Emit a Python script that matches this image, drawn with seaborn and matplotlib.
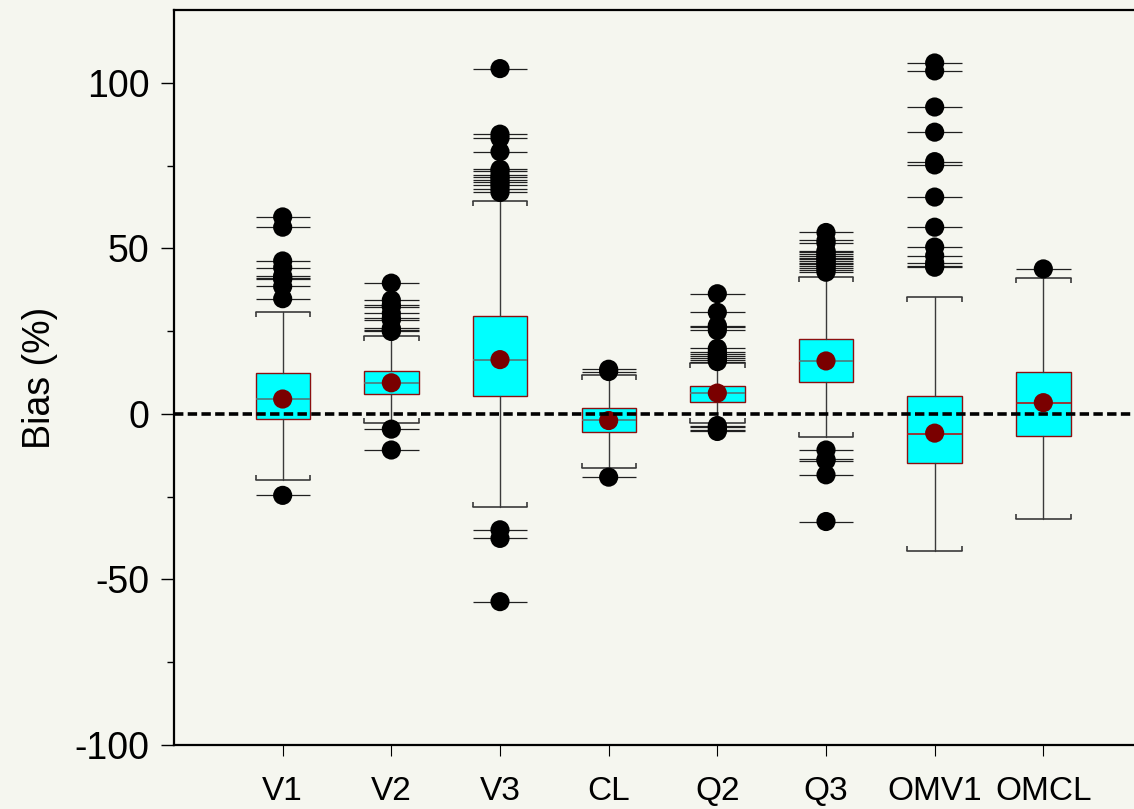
import matplotlib
matplotlib.use("Agg")
import matplotlib.pyplot as plt
import seaborn as sns
import pandas as pd
import numpy as np

# ---------------- data ----------------
labels = ["V1", "V2", "V3", "CL", "Q2", "Q3", "OMV1", "OMCL"]
q1 = [-1.6, 6.0, 5.3, -5.5, 3.7, 9.6, -14.9, -6.6]
medians = [4.4, 9.3, 16.4, -1.8, 6.2, 16.0, -6.1, 3.2]
q3 = [12.3, 13.1, 29.5, 1.7, 8.5, 22.6, 5.5, 12.8]
whislo = [-19.9, -2.8, -28.1, -16.4, -2.8, -6.9, -41.4, -31.8]
whishi = [30.9, 23.4, 64.2, 11.8, 15.3, 41.3, 35.4, 41.0]
means = [4.5, 9.4, 16.4, -2.0, 6.3, 16.0, -5.8, 3.4]

fliers_V1 = [59.5, 56.4, 46.2, 44.2, 41.7, 41.1, 40.7, 38.5, 34.8, -24.6]
fliers_V2 = [39.5, 34.4, 32.9, 32.4, 30.4, 28.9, 28.4, 25.9, 25.4, 24.9, -4.6, -10.9]
fliers_V3 = [104.3, 84.5, 83.3, 79.2, 73.9, 73.4, 72.1, 71.5, 70.8, 69.9, 69.1,
             68.0, 66.9, -35.0, -37.6, -56.7]
fliers_CL = [13.5, 12.8, -19.1]
fliers_Q2 = [36.3, 30.7, 26.7, 26.2, 25.2, 19.8, 18.8, 18.1, 17.5, 16.8, 16.3,
             15.8, -3.5, -4.1, -4.8, -5.3]
fliers_Q3 = [54.8, 52.4, 51.6, 49.3, 48.9, 48.3, 47.7, 47.2, 46.7, 46.2, 45.7,
             45.2, 44.7, 44.2, 43.5, 42.8, -10.9, -13.7, -14.1, -18.4, -32.5]
fliers_OMV1 = [106.0, 103.6, 92.7, 85.1, 76.2, 75.2, 65.5, 56.4, 50.4, 47.8,
               45.7, 44.7, 44.3]
fliers_OMCL = [43.8]
fliers = [fliers_V1, fliers_V2, fliers_V3, fliers_CL, fliers_Q2, fliers_Q3,
          fliers_OMV1, fliers_OMCL]

yticks = [-100, -50, 0, 50, 100]
yminor = [-75, -25, 25, 75]

# ---------------- style ----------------
BG = "#f5f6ef"
BOX_FILL = "#00ffff"
BOX_EDGE = "#8b1010"
MEAN_COL = "#7a0000"
WHISK_COL = "#3a3a3a"
median_colors = ["#4f7a7a"] * 6 + ["#b01818"] * 2

sns.set_theme(style="ticks")
plt.rcParams['font.family'] = ['Liberation Sans', 'DejaVu Sans']
plt.rcParams['text.color'] = 'black'
plt.rcParams['axes.labelcolor'] = 'black'
plt.rcParams['xtick.color'] = 'black'
plt.rcParams['ytick.color'] = 'black'

fig = plt.figure(figsize=(11.34, 8.09), dpi=100, facecolor=BG)
ax = fig.add_axes([174 / 1134, 64 / 809, 978 / 1134, 735 / 809])
ax.set_facecolor(BG)

positions = np.arange(1, len(labels) + 1)
width = 0.5
half = width / 2

stats = []
for i, lab in enumerate(labels):
    stats.append(dict(label=lab, q1=q1[i], med=medians[i], q3=q3[i],
                      whislo=whislo[i], whishi=whishi[i], fliers=[]))

bp = ax.bxp(stats, positions=positions, widths=width, patch_artist=True,
            showfliers=False, showcaps=True, capwidths=width,
            boxprops=dict(facecolor=BOX_FILL, edgecolor=BOX_EDGE, linewidth=1.0),
            whiskerprops=dict(color=WHISK_COL, linewidth=1.0),
            capprops=dict(color=WHISK_COL, linewidth=1.2),
            medianprops=dict(linewidth=1.2), zorder=2)
for m, c in zip(bp['medians'], median_colors):
    m.set_color(c)

# cap end ticks (bracket shape, pointing toward the box)
tick_len = 1.5
for p, lo, hi in zip(positions, whislo, whishi):
    ax.vlines([p - half, p + half], hi - tick_len, hi, color=WHISK_COL, lw=1.2, zorder=2)
    ax.vlines([p - half, p + half], lo, lo + tick_len, color=WHISK_COL, lw=1.2, zorder=2)

# outliers: horizontal line + black dot
fl_rows = []
for p, vals in zip(positions, fliers):
    for v in vals:
        fl_rows.append((p, v))
df_fl = pd.DataFrame(fl_rows, columns=["pos", "value"])
ax.hlines(df_fl["value"], df_fl["pos"] - half, df_fl["pos"] + half,
          color="#202020", lw=0.9, zorder=3)
sns.scatterplot(data=df_fl, x="pos", y="value", color="black", s=190,
                edgecolor="none", linewidth=0, zorder=5, ax=ax, legend=False)

# means
df_mean = pd.DataFrame({"pos": positions, "mean": means})
sns.scatterplot(data=df_mean, x="pos", y="mean", color=MEAN_COL, s=190,
                edgecolor="none", linewidth=0, zorder=5, ax=ax, legend=False)

# zero reference
ax.axhline(0, color="black", lw=2.6, dashes=(2.6, 1.2), zorder=6)

# axes
ax.set_xlim(0, 9)
ax.set_ylim(-100, 122)
ax.set_yticks(yticks)
ax.set_yticklabels([str(t) for t in yticks])
ax.set_yticks(yminor, minor=True)
ax.set_xticks(positions)
ax.set_xticklabels(labels, family=['Liberation Sans Narrow', 'Liberation Sans'],
                   fontsize=24)
ax.tick_params(axis='y', which='major', length=9.5, width=1.0, direction='out',
               labelsize=27, pad=8, color='black', labelcolor='black')
ax.tick_params(axis='y', which='minor', length=5, width=1.0, direction='out',
               color='black')
ax.tick_params(axis='x', which='major', length=8, width=0.8, direction='out',
               pad=14, color='black', labelcolor='black')
ax.set_xlabel("")
ax.set_ylabel("Bias (%)", fontsize=27, labelpad=12, color='black')

for s in ["left", "bottom", "top"]:
    ax.spines[s].set_visible(True)
    ax.spines[s].set_color("black")
    ax.spines[s].set_linewidth(1.6)
ax.spines["right"].set_visible(False)

fig.savefig("out.png", dpi=100, facecolor=BG)
